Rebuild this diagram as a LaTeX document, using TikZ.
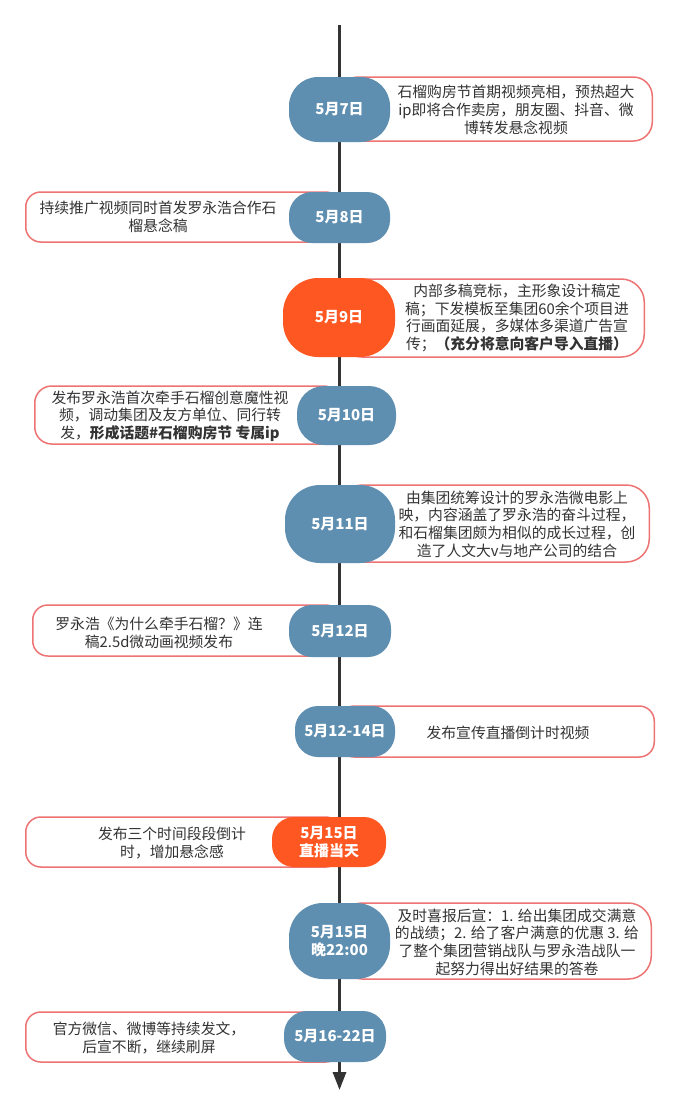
\documentclass[tikz,border=0pt]{standalone}
\usepackage{fontspec}
\setmainfont{Noto Sans CJK SC}
\usetikzlibrary{arrows.meta}
\definecolor{dateblue}{HTML}{5E8EB0}
\definecolor{dateorange}{HTML}{FF5722}
\definecolor{descred}{HTML}{EE7373}
\definecolor{txtgray}{HTML}{333333}
\definecolor{axisgray}{HTML}{333333}
\tikzset{
  datebox/.style={fill=dateblue, draw=none, text=white, font=\fontsize{15}{18.5}\selectfont\bfseries, align=center, inner sep=0pt},
  hotbox/.style={datebox, fill=dateorange},
  descbox/.style={draw=descred, line width=1.5pt, fill=white, inner sep=0pt},
  desctext/.style={text=txtgray, font=\fontsize{14.8}{17.7}\selectfont, align=center, inner sep=0pt},
  axisline/.style={draw=axisgray, line width=3pt, -{Triangle[length=18pt,width=13pt]}}
}
\begin{document}
\begin{tikzpicture}[x=1pt,y=-1pt]
\useasboundingbox (0,0) rectangle (680,1114);
\fill[white] (0,0) rectangle (680,1114);
\coordinate (top) at (339.5,25);
\coordinate (bot) at (339.5,1090);
\draw[axisline] (top) -- (bot);

% 1
\node[descbox, rounded corners=19pt, anchor=east, minimum width=313pt, minimum height=64pt] (e1) at (653,109) {};
\node[datebox, rounded corners=29pt, minimum width=101pt, minimum height=65pt] (d1) at (339.5,109.5) {5月7日};
\node[desctext] (t1) at (516,110) {石榴购房节首期视频亮相，预热超大\\ip即将合作卖房，朋友圈、抖音、微\\博转发悬念视频};

% 2
\node[descbox, rounded corners=15pt, anchor=west, minimum width=315pt, minimum height=50pt] (e2) at (25,217) {};
\node[datebox, rounded corners=23pt, minimum width=101pt, minimum height=51pt] (d2) at (339.5,217.5) {5月8日};
\node[desctext] (t2) at (158,217) {持续推广视频同时首发罗永浩合作石\\榴悬念稿};

% 3
\node[descbox, rounded corners=23pt, anchor=east, minimum width=305pt, minimum height=78pt] (e3) at (645,318) {};
\node[hotbox, rounded corners=35pt, minimum width=112pt, minimum height=79pt] (d3) at (339,317.5) {5月9日};
\node[desctext] (t3) at (517,318) {内部多稿竞标，主形象设计稿定\\稿；下发模板至集团60余个项目进\\行画面延展，多媒体多渠道广告宣\\传；{\bfseries（充分将意向客户导入直播）}};

% 4
\node[descbox, rounded corners=17pt, anchor=west, minimum width=306pt, minimum height=58pt] (e4) at (34,415) {};
\node[datebox, rounded corners=27pt, minimum width=99pt, minimum height=59pt] (d4) at (346.5,415.5) {5月10日};
\node[desctext] (t4) at (170,416) {发布罗永浩首次牵手石榴创意魔性视\\频，调动集团及友方单位、同行转\\发，{\bfseries 形成话题\#石榴购房节 专属ip}};

% 5
\node[descbox, rounded corners=23pt, anchor=east, minimum width=310pt, minimum height=77pt] (e5) at (650,523.5) {};
\node[datebox, rounded corners=35pt, minimum width=110pt, minimum height=78pt] (d5) at (340,524) {5月11日};
\node[desctext] (t5) at (517,524) {由集团统筹设计的罗永浩微电影上\\映，内容涵盖了罗永浩的奋斗过程，\\和石榴集团颇为相似的成长过程，创\\造了人文大v与地产公司的结合};

% 6
\node[descbox, rounded corners=15pt, anchor=west, minimum width=308pt, minimum height=51pt] (e6) at (32,630.5) {};
\node[datebox, rounded corners=23pt, minimum width=102pt, minimum height=52pt] (d6) at (340,631) {5月12日};
\node[desctext] (t6) at (159,633) {罗永浩《为什么牵手石榴？》连\\稿2.5d微动画视频发布};

% 7
\node[descbox, rounded corners=15pt, anchor=east, minimum width=315pt, minimum height=51pt] (e7) at (655,731.5) {};
\node[datebox, rounded corners=23pt, minimum width=100pt, minimum height=51pt] (d7) at (345,731.5) {5月12-14日};
\node[desctext] (t7) at (508,733) {发布宣传直播倒计时视频};

% 8
\node[descbox, rounded corners=15pt, anchor=west, minimum width=315pt, minimum height=50pt] (e8) at (25,842) {};
\node[hotbox, rounded corners=22pt, minimum width=114pt, minimum height=50pt] (d8) at (329,842) {5月15日\\直播当天};
\node[desctext] (t8) at (172,843) {发布三个时间段段倒计\\时，增加悬念感};

% 9
\node[descbox, rounded corners=23pt, anchor=east, minimum width=312pt, minimum height=76pt] (e9) at (652,941) {};
\node[datebox, rounded corners=34pt, minimum width=101pt, minimum height=76pt] (d9) at (339.5,941) {5月15日\\晚22:00};
\node[desctext] (t9) at (517,942) {及时喜报后宣：1. 给出集团成交满意\\的战绩；2. 给了客户满意的优惠 3. 给\\了整个集团营销战队与罗永浩战队一\\起努力得出好结果的答卷};

% 10
\node[descbox, rounded corners=15pt, anchor=west, minimum width=315pt, minimum height=50pt] (e10) at (25,1037) {};
\node[datebox, rounded corners=23pt, minimum width=102pt, minimum height=51pt] (d10) at (335,1036.5) {5月16-22日};
\node[desctext] (t10) at (149,1038) {官方微信、微博等持续发文，\\后宣不断，继续刷屏};
\end{tikzpicture}
\end{document}
